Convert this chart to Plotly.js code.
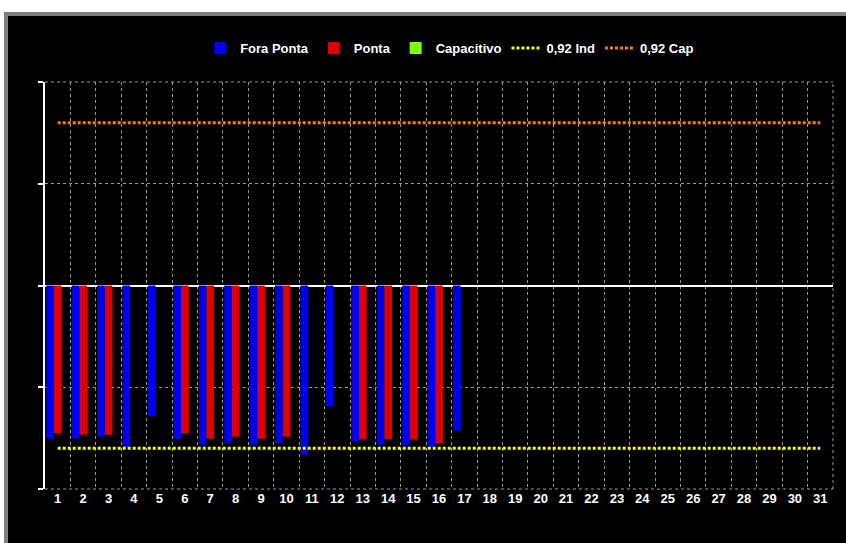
<!DOCTYPE html>
<html>
<head>
<meta charset="utf-8">
<script src="https://cdn.plot.ly/plotly-3.0.1.min.js"></script>
<style>
html, body { margin: 0; padding: 0; background: #ffffff; width: 846px; height: 543px; overflow: hidden; }
#frame { position: absolute; top: 12px; left: 4px; width: 842px; height: 531px; box-sizing: border-box;
         border-top: 4px solid #7f7f7f; border-left: 4px solid #7f7f7f; background: #000; }
#chart { width: 838px; height: 527px; }
</style>
</head>
<body>
<div id="frame"><div id="chart"></div></div>
<script>
// Days of the month (categories)
const days = Array.from({length: 31}, (_, i) => String(i + 1));

// Reactive ratio per day (negative = inductive), days 1..17 measured
const foraPonta = [-0.866, -0.866, -0.853, -0.914, -0.739, -0.866, -0.900, -0.891, -0.900, -0.891,
                   -0.957, -0.684, -0.880, -0.900, -0.902, -0.917, -0.821,
                   null, null, null, null, null, null, null, null, null, null, null, null, null, null];
const ponta = [-0.835, -0.844, -0.844, null, null, -0.835, -0.866, -0.855, -0.866, -0.855,
               null, null, -0.870, -0.870, -0.870, -0.893, null,
               null, null, null, null, null, null, null, null, null, null, null, null, null, null];
const capacitivo = [0, 0, 0, 0, 0, 0, 0, 0, 0, 0, 0, 0, 0, 0, 0, 0, 0,
                    0, 0, 0, 0, 0, 0, 0, 0, 0, 0, 0, 0, 0, 0];

// Reference limits for power factor 0.92
const limInd = -0.92;
const limCap = 0.92;
const yMax = 1.15;

const font = {family: 'Arial, "Liberation Sans", sans-serif', color: '#ffffff', size: 13, weight: 'bold'};
const gridStyle = {color: '#9a9a9a', width: 1, dash: 'dot'};

const traces = [
  {type: 'bar', name: 'Fora Ponta', x: days, y: foraPonta, marker: {color: '#0000ee', line: {width: 0}}},
  {type: 'bar', name: 'Ponta', x: days, y: ponta, marker: {color: '#e00000', line: {width: 0}}},
  {type: 'bar', name: 'Capacitivo', x: days, y: capacitivo, marker: {color: '#80ff00', line: {width: 0}}},
  {type: 'scatter', mode: 'lines', name: '0,92 Ind', x: days, y: days.map(() => limInd),
   line: {color: '#ffff00', width: 3, dash: '3px,2px'}},
  {type: 'scatter', mode: 'lines', name: '0,92 Cap', x: days, y: days.map(() => limCap),
   line: {color: '#ff8000', width: 3, dash: '3px,2px'}}
];

const layout = {
  width: 838, height: 527,
  paper_bgcolor: '#000000', plot_bgcolor: '#000000',
  margin: {l: 37, r: 13, t: 66, b: 54},
  font: font,
  barmode: 'group', bargap: 0.1, bargroupgap: 0,
  showlegend: true,
  legend: {orientation: 'h', xref: 'container', yref: 'container', x: 0.527, y: 0.939,
           xanchor: 'center', yanchor: 'middle', font: font, bgcolor: 'rgba(0,0,0,0)',
           itemwidth: 30, tracegroupgap: 0},
  xaxis: {type: 'category', categoryorder: 'array', categoryarray: days,
          range: [-0.5, 30.5], tickson: 'boundaries', ticks: '',
          showgrid: true, gridcolor: '#9a9a9a', griddash: 'dot', gridwidth: 1,
          showline: false, zeroline: false, tickfont: font, fixedrange: true},
  yaxis: {range: [-yMax, yMax], tick0: 0, dtick: yMax / 2, showticklabels: false,
          showgrid: true, gridcolor: '#9a9a9a', griddash: 'dot', gridwidth: 1,
          zeroline: true, zerolinecolor: '#ffffff', zerolinewidth: 2,
          showline: true, linecolor: '#ffffff', linewidth: 2,
          ticks: 'outside', ticklen: 5, tickwidth: 2, tickcolor: '#ffffff', fixedrange: true},
  shapes: [
    {type: 'line', xref: 'paper', yref: 'paper', x0: 0, x1: 1, y0: 1, y1: 1, line: gridStyle, layer: 'below'},
    {type: 'line', xref: 'paper', yref: 'paper', x0: 0, x1: 1, y0: 0, y1: 0, line: gridStyle, layer: 'below'},
    {type: 'line', xref: 'paper', yref: 'paper', x0: 1, x1: 1, y0: 0, y1: 1, line: gridStyle, layer: 'below'}
  ]
};

Plotly.newPlot('chart', traces, layout, {displayModeBar: false, staticPlot: true});
</script>
</body>
</html>
